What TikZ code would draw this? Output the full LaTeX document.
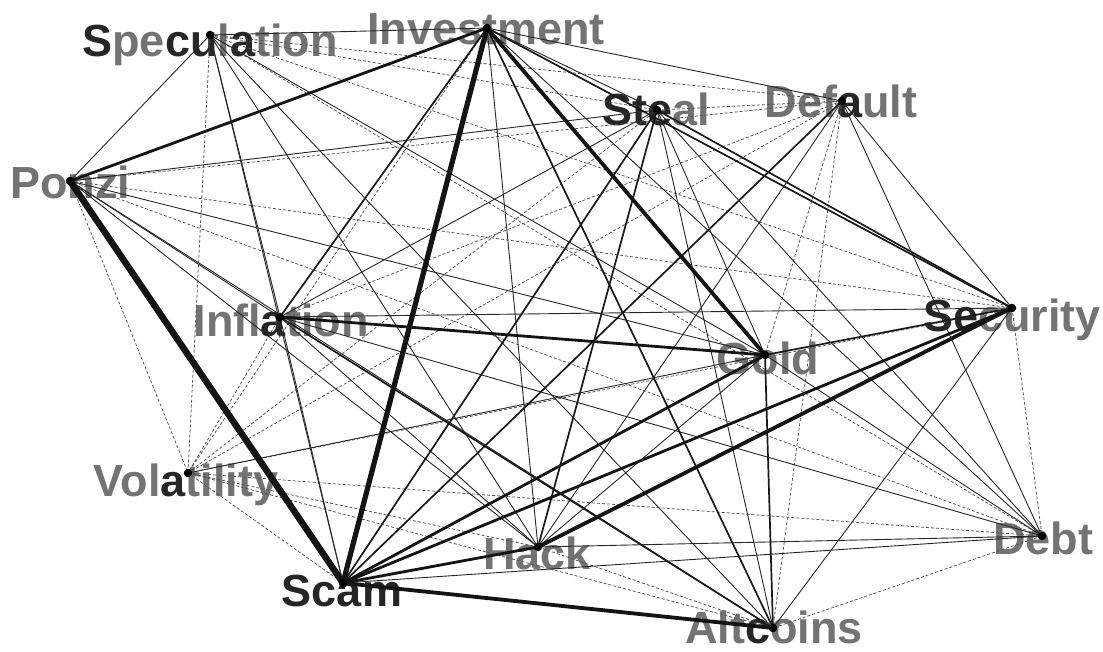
\documentclass[tikz,border=0pt]{standalone}
\usepackage{fontspec}
\setmainfont{Liberation Sans}
\definecolor{labgray}{HTML}{737373}
\definecolor{labdark}{HTML}{262626}
\newcommand\dk[1]{\textcolor{labdark}{#1}}
\begin{document}
\begin{tikzpicture}[x=1pt,y=-1pt,
  lab/.style={text=labgray, anchor=base, inner sep=0pt, font=\fontsize{45}{45}\selectfont\bfseries},
  vtx/.style={circle, fill=black, inner sep=0pt, minimum size=8.5pt},
  e0/.style={draw=black!68, line width=0.75pt, dash pattern=on 3pt off 2pt},
  e1/.style={draw=black!85, line width=0.9pt},
  e2/.style={draw=black!90, line width=1.7pt},
  e3/.style={draw=black!92, line width=2.8pt},
  e4/.style={draw=black!92, line width=3.8pt},
  e5/.style={draw=black!92, line width=5.2pt},
  e6/.style={draw=black!92, line width=6.5pt}]
\useasboundingbox (0,0) rectangle (1103,652);
% vertex positions
\coordinate (Sp) at (210,35);
\coordinate (In) at (487,28);
\coordinate (St) at (657,110);
\coordinate (De) at (842,101);
\coordinate (Po) at (70,181);
\coordinate (If) at (280,317);
\coordinate (Go) at (765,355);
\coordinate (Se) at (1012,308);
\coordinate (Vo) at (188,473);
\coordinate (Ha) at (538,547);
\coordinate (Db) at (1042,536);
\coordinate (Sc) at (343,583);
\coordinate (Al) at (773,628);
% labels
\node[lab] (SpL) at (210,57) {\dk{S}pe\dk{cu}l\dk{a}tion};
\node[lab] (InL) at (486,45) {Investment};
\node[lab] (StL) at (656,126) {\dk{Ste}al};
\node[lab] (DeL) at (841,118) {Def\dk{a}ult};
\node[lab] (PoL) at (70,199) {Ponzi};
\node[lab] (IfL) at (281,336) {Infl\dk{a}tion};
\node[lab] (GoL) at (768,374) {Gold};
\node[lab] (SeL) at (1012,331) {\dk{Se}curity};
\node[lab] (VoL) at (186,496) {Vol\dk{a}tility};
\node[lab] (HaL) at (537,569) {Hack};
\node[lab] (DbL) at (1043,554) {Debt};
\node[lab] (ScL) at (342,606) {\dk{Scam}};
\node[lab] (AlL) at (774,643) {Alt\dk{c}oins};
% edges
\foreach \a/\b in {Sp/St, Sp/De, Sp/Se, Sp/Vo, Sp/Db, In/Vo, St/De, St/Vo, De/Po, De/If, De/Go, De/Vo, De/Al, Po/Vo, Po/Se, Po/Db, If/Vo, Se/Vo, Se/Db, Vo/Ha, Vo/Db, Vo/Sc, Vo/Al, Ha/Al, Db/Al}
  \draw[e0] (\a) -- (\b);
\foreach \a/\b in {Sp/In, Sp/Po, Sp/If, Sp/Go, Sp/Ha, Sp/Sc, Sp/Al, In/St, In/De, In/Ha, In/Db, St/Po, St/If, St/Go, St/Db, St/Al, De/Se, De/Ha, De/Db, Po/If, Po/Go, Po/Al, Po/Ha, If/Ha, If/Db, If/Sc, Go/Vo, Go/Ha, Go/Db, Se/Al, Ha/Db, Db/Sc, If/Se}
  \draw[e1] (\a) -- (\b);
\foreach \a/\b in {In/If, In/Se, In/Al, St/Se, St/Ha, St/Sc, De/Sc, If/Al, Go/Se, Go/Al}
  \draw[e2] (\a) -- (\b);
\foreach \a/\b in {In/Po, If/Go, Go/Sc, Se/Sc, Ha/Sc}
  \draw[e3] (\a) -- (\b);
\foreach \a/\b in {In/Go, Se/Ha, Sc/Al}
  \draw[e4] (\a) -- (\b);
\draw[e5] (In) -- (Sc);
\draw[e6] (Po) -- (Sc);
% dots
\foreach \v in {Sp,In,St,De,Po,If,Go,Se,Vo,Ha,Db,Sc,Al}
  \node[vtx] (\v D) at (\v) {};
\end{tikzpicture}
\end{document}
